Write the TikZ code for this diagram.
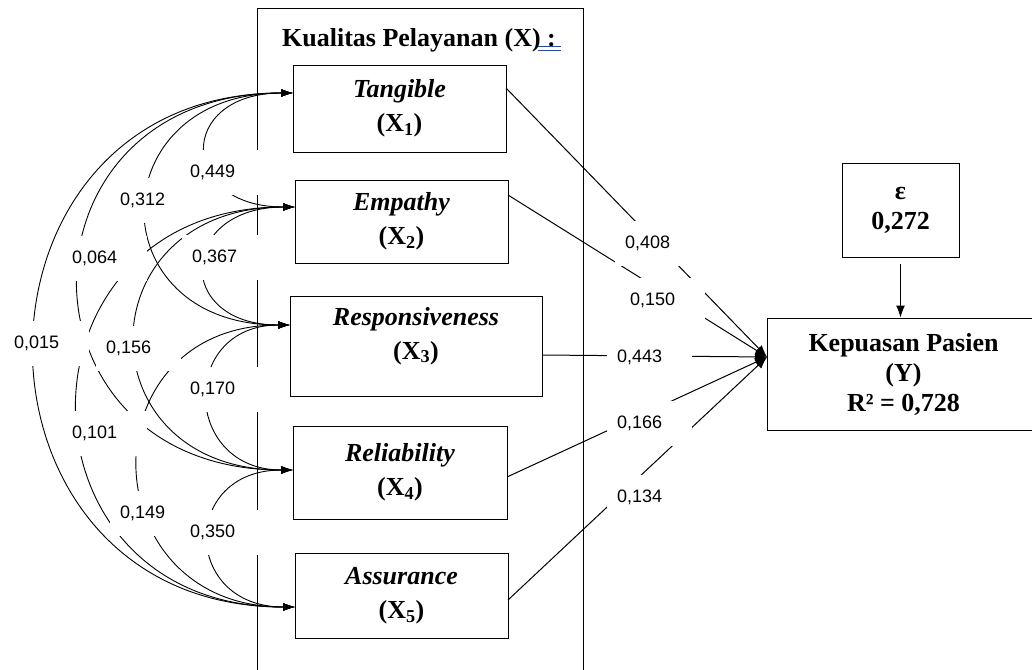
\documentclass[tikz,border=0pt]{standalone}
\usepackage{fontspec}
\setmainfont{Liberation Serif}
\newfontfamily\arialf{Liberation Sans}
\usetikzlibrary{arrows.meta,calc}
\tikzset{
  xbox/.style={draw, line width=1pt, inner sep=0pt, align=center,
    font=\fontsize{26}{34}\selectfont\bfseries},
  ybox/.style={draw, line width=1pt, inner sep=0pt, align=center,
    font=\fontsize{26}{30}\selectfont\bfseries},
  lab/.style={fill=white, inner xsep=10pt, inner ysep=0pt, minimum height=45pt,
    text width=65pt, align=left, anchor=west, font=\arialf\fontsize{18}{20}\selectfont},
  cov/.style={line width=0.9pt, {Latex[length=12pt,width=8pt]}-{Latex[length=12pt,width=8pt]}},
  arr/.style={line width=1pt, -{Latex[length=12pt,width=9pt]}},
}
\begin{document}
\begin{tikzpicture}[x=1pt,y=-1pt]
\useasboundingbox (0,0) rectangle (1032,669);
\fill[white] (0,0) rectangle (1032,669);
% container
\draw[line width=1pt] (257,680) -- (257,9) -- (583,9) -- (583,680);
\node[font=\fontsize{26}{30}\selectfont\bfseries] (title) at (419,40) {Kualitas Pelayanan (X) :};
\draw[blue!70!cyan, line width=0.8pt] (538,46.5) -- (561,46.5);
\draw[blue!70!cyan, line width=0.8pt] (538,50) -- (561,50);
% boxes
\node[xbox, minimum width=213pt, minimum height=87pt] (X1) at (399.5,108.5) {\textit{Tangible}\\(X\textsubscript{1})};
\node[xbox, minimum width=213pt, minimum height=83pt] (X2) at (401.5,221.5) {\textit{Empathy}\\(X\textsubscript{2})};
\node[xbox, minimum width=252pt, minimum height=100pt] (X3) at (416,346) {\textit{Responsiveness}\\(X\textsubscript{3})\\[-8pt]};
\node[xbox, minimum width=214pt, minimum height=93pt] (X4) at (400,472.5) {\textit{Reliability}\\(X\textsubscript{4})};
\node[xbox, minimum width=213pt, minimum height=85pt] (X5) at (401.5,595.5) {\textit{Assurance}\\(X\textsubscript{5})};
\node[ybox, minimum width=117pt, minimum height=94pt] (E) at (900.5,210) {ε\\0,272};
\node[ybox, minimum width=273pt, minimum height=112pt] (Y) at (903.5,374) {Kepuasan Pasien\\(Y)\\R² = 0,728};
% coordinates
\coordinate (c1) at (293,93);
\coordinate (c2) at (295,207);
\coordinate (c3) at (290,325);
\coordinate (c4) at (293,470);
\coordinate (c5) at (295,607);
\coordinate (p1) at (506,88);
\coordinate (p2) at (508,195);
\coordinate (p3) at (542,355);
\coordinate (p4) at (507,477);
\coordinate (p5) at (508,600);
\coordinate (yt) at (767,357);
% covariances
\draw[cov] (c1) .. controls +(-117,0) and +(-117,0) .. (c2);
\draw[cov] (c1) .. controls +(-193,0) and +(-193,0) .. (c3);
\draw[cov] (c1) .. controls +(-285,0) and +(-285,0) .. (c4);
\draw[cov] (c1) .. controls +(-345,0) and +(-345,0) .. (c5);
\draw[cov] (c2) .. controls +(-117,0) and +(-117,0) .. (c3);
\draw[cov] (c2) .. controls +(-211,0) and +(-211,0) .. (c4);
\draw[cov] (c2) .. controls +(-289,0) and +(-289,0) .. (c5);
\draw[cov] (c3) .. controls +(-111,0) and +(-111,0) .. (c4);
\draw[cov] (c3) .. controls +(-205,0) and +(-205,0) .. (c5);
\draw[cov] (c4) .. controls +(-113,0) and +(-113,0) .. (c5);
% paths
\draw[arr] (p1) -- (yt);
\draw[arr] (p2) -- (yt);
\draw[arr] (p3) -- (yt);
\draw[arr] (p4) -- (yt);
\draw[arr] (p5) -- (yt);
\draw[arr] ([yshift=-6pt]E.south) -- (E.south |- Y.north);
% labels
\node[lab] (l12) at (180,172) {0,449};
\node[lab] (l13) at (110,200) {0,312};
\node[lab] (l14) at (62,258) {0,064};
\node[lab] (l23) at (182,257) {0,367};
\node[lab] (l15) at (4,343) {0,015};
\node[lab] (l24) at (96,348) {0,156};
\node[lab] (l34) at (180,389) {0,170};
\node[lab] (l25) at (62,433) {0,101};
\node[lab] (l35) at (110,513) {0,149};
\node[lab] (l45) at (180,532) {0,350};
\node[lab] (r1) at (615,243) {0,408};
\node[lab] (r2) at (620,300) {0,150};
\node[lab] (r3) at (607,357) {0,443};
\node[lab] (r4) at (607,423) {0,166};
\node[lab] (r5) at (607,497) {0,134};
\end{tikzpicture}
\end{document}
